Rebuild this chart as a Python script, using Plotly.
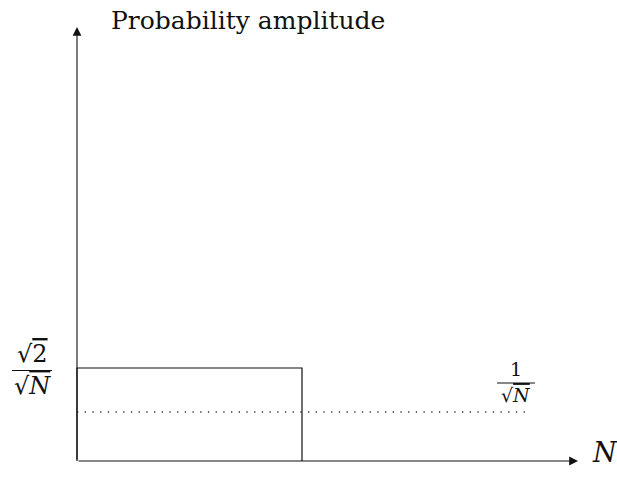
import numpy as np
import plotly.graph_objects as go

# Model size and the two amplitude levels
N = 16
amp_peak = np.sqrt(2) / np.sqrt(N)   # amplitude on the marked half
amp_flat = 1 / np.sqrt(N)            # uniform amplitude
peak_span = [0, N / 2]               # x-extent of the raised block
flat_span = [0, N]                   # x-extent of the uniform level
peak_label = "√2 / √N"
flat_label = "1 / √N"
y_title = "Probability amplitude"
x_title = "N"

# ---- canvas geometry (pixels) ----
W, H = 617, 492
ox, oy = 77, 461                 # origin of the drawn axes
px_per_x = 450 / N
px_per_y = 44 / (amp_peak - amp_flat)
y_base = amp_flat - 49 / px_per_y  # value sitting on the horizontal axis

x_range = [-ox / px_per_x, (W - ox) / px_per_x]
y_range = [y_base - (H - oy) / px_per_y, y_base + oy / px_per_y]


def px(xp):
    return xp / W


def py(yp):
    return 1 - yp / H


FONT = "DejaVu Serif, Liberation Serif, serif"
INK = "#111111"

fig = go.Figure()

# raised block over the first half
fig.add_trace(go.Scatter(
    x=[peak_span[0], peak_span[0], peak_span[1], peak_span[1]],
    y=[y_base, amp_peak, amp_peak, y_base],
    mode="lines", line=dict(color=INK, width=1.2), hoverinfo="skip",
))

# uniform level, dotted
fig.add_trace(go.Scatter(
    x=flat_span, y=[amp_flat, amp_flat],
    mode="lines", line=dict(color="#333333", width=1.3, dash="1.3px,6.4px"),
    hoverinfo="skip",
))

annotations = []
# axes with arrow heads
x_tip = (578 - ox) / px_per_x
y_tip = y_base + (oy - 27) / px_per_y
for (tx, ty) in [(0, y_tip), (x_tip, y_base)]:
    annotations.append(dict(
        x=tx, y=ty, ax=0, ay=y_base, xref="x", yref="y", axref="x", ayref="y",
        text="", showarrow=True, arrowhead=2, arrowsize=1.6, arrowwidth=1.1,
        arrowcolor=INK, standoff=0, startstandoff=0,
    ))

ov = "<span style='text-decoration:overline'>{}</span>"

# axis titles
annotations.append(dict(
    x=px(109), y=py(20), xref="paper", yref="paper", xanchor="left",
    yanchor="middle", text=y_title, showarrow=False,
    font=dict(family=FONT, size=25, color=INK),
))
annotations.append(dict(
    x=px(605), y=py(452), xref="paper", yref="paper", xanchor="center",
    yanchor="middle", text="<i>" + x_title + "</i>", showarrow=False,
    font=dict(family=FONT, size=27, color=INK),
))

shapes = []


def fraction(num, den, cx, bar_y, half_w, size, gap):
    annotations.append(dict(
        x=px(cx), y=py(bar_y - 1), xref="paper", yref="paper",
        xanchor="center", yanchor="bottom", text=num, showarrow=False,
        font=dict(family=FONT, size=size, color=INK),
    ))
    annotations.append(dict(
        x=px(cx), y=py(bar_y + gap), xref="paper", yref="paper",
        xanchor="center", yanchor="top", text=den, showarrow=False,
        font=dict(family=FONT, size=size, color=INK),
    ))
    shapes.append(dict(
        type="line", xref="paper", yref="paper",
        x0=px(cx - half_w), x1=px(cx + half_w), y0=py(bar_y), y1=py(bar_y),
        line=dict(color=INK, width=1.1),
    ))


num_p, den_p = [s.strip() for s in peak_label.split("/")]
num_f, den_f = [s.strip() for s in flat_label.split("/")]
fraction("√" + ov.format(num_p[1:]), "√" + ov.format("<i>" + den_p[1:] + "</i>"),
         32, 370.5, 20, 24, -1)
fraction(num_f, "√" + ov.format("<i>" + den_f[1:] + "</i>"),
         516, 383, 19, 19, -1)

fig.update_layout(
    width=W, height=H, margin=dict(l=0, r=0, t=0, b=0),
    paper_bgcolor="white", plot_bgcolor="white", showlegend=False,
    xaxis=dict(range=x_range, visible=False, fixedrange=True),
    yaxis=dict(range=y_range, visible=False, fixedrange=True),
    annotations=annotations, shapes=shapes,
)

fig.write_html("out.html")
